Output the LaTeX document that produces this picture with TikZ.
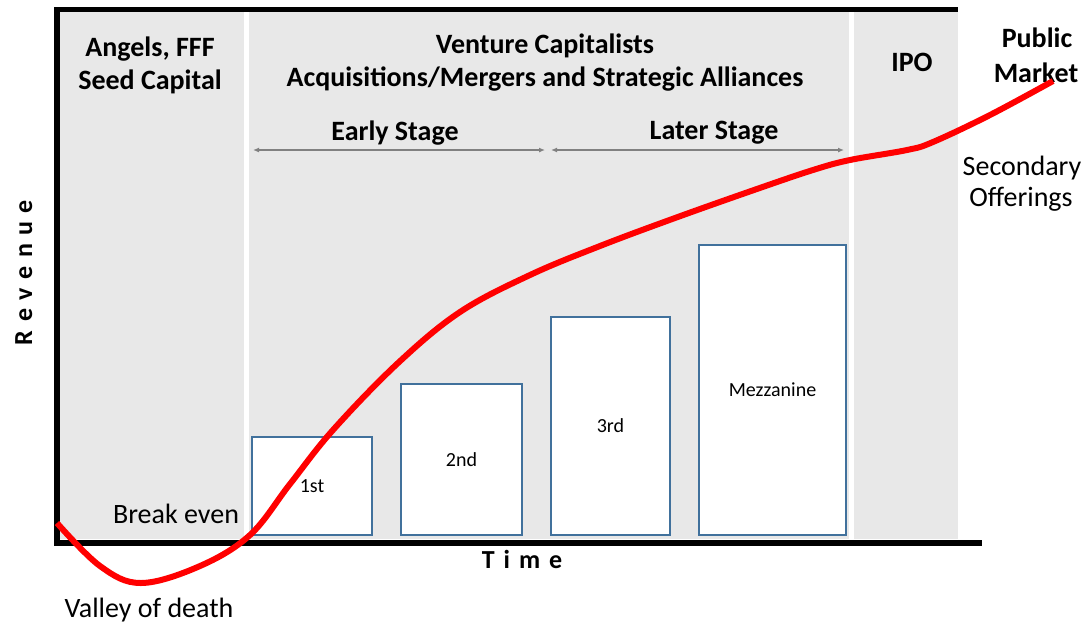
\documentclass[tikz,border=0pt]{standalone}
\usepackage{fontspec}
\setmainfont{Carlito}
\usetikzlibrary{arrows.meta}
\definecolor{panelgray}{RGB}{232,232,232}
\definecolor{boxblue}{RGB}{65,113,156}
\definecolor{arrowgray}{RGB}{128,128,128}
\definecolor{curvered}{RGB}{255,0,0}

\begin{document}
\begin{tikzpicture}[x=1pt,y=-1pt,
  panel/.style={fill=panelgray, draw=none},
  frameline/.style={black, line width=6pt},
  fundbox/.style={draw=boxblue, line width=2pt, fill=white, inner sep=0pt,
    font=\fontsize{20}{24}\selectfont},
  headtext/.style={font=\bfseries\fontsize{28}{33}\selectfont, anchor=base, inner sep=0pt},
  plaintext/.style={font=\fontsize{28}{33}\selectfont, anchor=base, inner sep=0pt},
  axistext/.style={font=\bfseries\fontsize{26}{30}\selectfont, anchor=base, inner sep=0pt},
  stagearrow/.style={arrowgray, line width=1.5pt,
    {Latex[length=6pt,width=5pt]}-{Latex[length=6pt,width=5pt]}},
  growth/.style={curvered, line width=6pt}
]
\useasboundingbox (0,0) rectangle (1091,622);

% funding phases as shaded columns
\fill[panel] (60,12) rectangle (244,539);
\fill[panel] (249,12) rectangle (849,539);
\fill[panel] (854,12) rectangle (958,539);

% frame: top edge, revenue axis, time axis
\draw[frameline, line width=5pt] (54,9.5) -- (958,9.5);
\draw[frameline] (57,7) -- (57,545.7);
\draw[frameline] (54,542.5) -- (982,542.5);

% financing rounds
\node[fundbox, minimum width=120pt, minimum height=98pt]  (first)  at (312,486)   {1st};
\node[fundbox, minimum width=121pt, minimum height=151pt] (second) at (461.5,459.5) {2nd};
\node[fundbox, minimum width=119pt, minimum height=218pt] (third)  at (610.5,426) {3rd};
\node[fundbox, minimum width=147pt, minimum height=290pt] (mezz)   at (772.5,390) {Mezzanine};

% column headings
\node[headtext] (angels) at (150,56) {Angels, FFF};
\node[headtext] (seed)   at (150,89) {Seed Capital};
\node[headtext] (vc)     at (545,53) {Venture Capitalists};
\node[headtext] (ama)    at (545,86) {Acquisitions/Mergers and Strategic Alliances};
\node[headtext] (ipo)    at (912,71) {IPO};
\node[headtext] (public) at (1037,47) {Public};
\node[headtext] (market) at (1036,82) {Market};

% stage spans
\node[headtext] (early) at (395,140) {Early Stage};
\node[headtext] (later) at (714,139) {Later Stage};
\coordinate (earlyL) at (253,150);
\coordinate (earlyR) at (545,150);
\coordinate (laterL) at (551,150);
\coordinate (laterR) at (844,150);
\draw[stagearrow] (earlyL) -- (earlyR);
\draw[stagearrow] (laterL) -- (laterR);

% plain labels
\node[plaintext] (secondary) at (1022,175) {Secondary};
\node[plaintext] (offerings) at (1021,206) {Offerings};
\node[plaintext] (breakeven) at (176,523) {Break even};
\node[plaintext] (valley)    at (149,617) {Valley of death};

% axis titles
\node[axistext] (time) at (522,568) {T\hspace{9pt}i\hspace{9pt}m\hspace{9pt}e};
\node[axistext, rotate=90] (revenue) at (32,272.5)
  {R\hspace{8.5pt}e\hspace{8.5pt}v\hspace{8.5pt}e\hspace{8.5pt}n\hspace{8.5pt}u\hspace{8.5pt}e};

% revenue curve
\draw[growth] plot[smooth, tension=0.6] coordinates {
  (57,523) (100,566) (141,583) (200,566) (250,535) (290,484) (333,430)
  (398,363) (460,312) (530,275) (600,246) (675,218) (754,190) (813,170)
  (850,160) (907,150) (933,142) (990,115) (1053,81)};
\end{tikzpicture}
\end{document}
